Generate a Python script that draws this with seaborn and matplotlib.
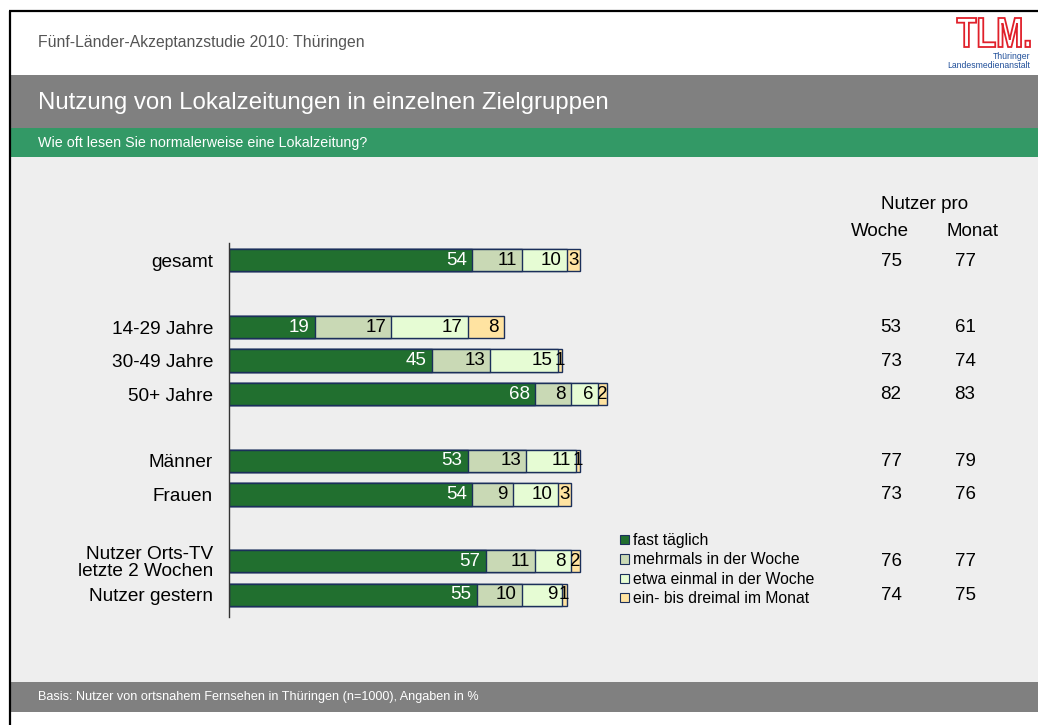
import matplotlib
matplotlib.use("Agg")
import matplotlib.pyplot as plt
from matplotlib.patches import Rectangle, Patch, PathPatch
from matplotlib.textpath import TextPath
from matplotlib.font_manager import FontProperties
from matplotlib.transforms import Affine2D
import numpy as np
import pandas as pd
import seaborn as sns

# ---------------- data ----------------
categories = ["gesamt", "14-29 Jahre", "30-49 Jahre", "50+ Jahre",
              "Männer", "Frauen", "Nutzer Orts-TV\nletzte 2 Wochen", "Nutzer gestern"]
row_pos = [0, 2, 3, 4, 6, 7, 9, 10]
series_names = ["fast täglich", "mehrmals in der Woche",
                "etwa einmal in der Woche", "ein- bis dreimal im Monat"]
fast_taeglich = [54, 19, 45, 68, 53, 54, 57, 55]
mehrmals_woche = [11, 17, 13, 8, 13, 9, 11, 10]
einmal_woche = [10, 17, 15, 6, 11, 10, 8, 9]
ein_bis_dreimal_monat = [3, 8, 1, 2, 1, 3, 2, 1]
nutzer_woche = [75, 53, 73, 82, 77, 73, 76, 74]
nutzer_monat = [77, 61, 74, 83, 79, 76, 77, 75]

colors = ["#216F2F", "#C9D9B5", "#E6FCD4", "#FFE3A1"]
edge = "#1B2F5A"
FONT = "Liberation Sans"

sns.set_theme(style="white")
plt.rcParams["font.family"] = [FONT, "DejaVu Sans"]
plt.rcParams["text.color"] = "black"
plt.rcParams["ytick.color"] = "black"
plt.rcParams["ytick.labelcolor"] = "black"

W, H = 1038, 725
fig = plt.figure(figsize=(W / 100, H / 100), dpi=100)

# ---------------- slide chrome ----------------
bg = fig.add_axes([0, 0, 1, 1], zorder=0)
bg.set_xlim(0, W)
bg.set_ylim(H, 0)
bg.axis("off")
bg.add_patch(Rectangle((11, 75), W - 11, 53, color="#808080", lw=0))
bg.add_patch(Rectangle((11, 128), W - 11, 29, color="#339966", lw=0))
bg.add_patch(Rectangle((11, 157), W - 11, 525, color="#EEEEEE", lw=0))
bg.add_patch(Rectangle((11, 682), W - 11, 30, color="#808080", lw=0))
bg.plot([9, W], [11, 11], color="black", lw=1.6, solid_capstyle="butt")
bg.plot([10, 10], [11, H], color="black", lw=1.6, solid_capstyle="butt")

bg.text(38, 42, "Fünf-Länder-Akzeptanzstudie 2010: Thüringen", fontsize=11.3,
        color="#555555", va="center", ha="left")
bg.text(38, 103, "Nutzung von Lokalzeitungen in einzelnen Zielgruppen", fontsize=17.3,
        color="white", va="center", ha="left")
bg.text(38, 143, "Wie oft lesen Sie normalerweise eine Lokalzeitung?", fontsize=10.3,
        color="white", va="center", ha="left")
bg.text(38, 697, "Basis: Nutzer von ortsnahem Fernsehen in Thüringen (n=1000), Angaben in %",
        fontsize=9.1, color="white", va="center", ha="left")

# logo: outlined red letters, stretched to the logo box
tp = TextPath((0, 0), "TLM.", size=10, prop=FontProperties(family=FONT, weight="bold"))
ext = tp.get_extents()
sx = (1030 - 957) / ext.width
sy = (47 - 18) / ext.height
tr = Affine2D().translate(-ext.x0, -ext.y0).scale(sx, -sy).translate(957, 47)
bg.add_patch(PathPatch(tr.transform_path(tp), facecolor="white",
                       edgecolor="#E0202A", lw=1.3))
bg.text(1030, 56, "Thüringer", fontsize=6.2, color="#1F4E99", ha="right", va="center")
bg.text(1030, 65, "Landesmedienanstalt", fontsize=6.2, color="#1F4E99", ha="right", va="center")

# right-hand columns
bg.text(925, 204, "Nutzer pro", fontsize=13.5, ha="center", va="center")
bg.text(880, 231, "Woche", fontsize=13.5, ha="center", va="center")
bg.text(972, 231, "Monat", fontsize=13.5, ha="center", va="center")

# ---------------- bar chart ----------------
ax = fig.add_axes([229 / W, (H - 617) / H, 450 / W, 374 / H], zorder=2)
ax.patch.set_alpha(0)

df = pd.DataFrame({
    "pos": row_pos,
    "s1": fast_taeglich,
    "s2": mehrmals_woche,
    "s3": einmal_woche,
    "s4": ein_bis_dreimal_monat,
})
cum = df[["s1", "s2", "s3", "s4"]].cumsum(axis=1)
for k in [3, 2, 1, 0]:
    tmp = pd.DataFrame({"pos": df["pos"], "val": cum.iloc[:, k]})
    sns.barplot(data=tmp, x="val", y="pos", orient="h", native_scale=True,
                color=colors[k], saturation=1, width=0.66, edgecolor=edge,
                linewidth=1.0, ax=ax, errorbar=None)

# value labels
for i, p in enumerate(row_pos):
    for k in range(4):
        end = cum.iloc[i, k]
        val = df.iloc[i, k + 1]
        col = "white" if k == 0 else "black"
        if val <= 3:
            ax.text(end - val / 2, p, f"{val}", ha="center", va="center",
                    fontsize=13.5, color=col, zorder=5)
        else:
            ax.text(end - 1.1, p, f"{val}", ha="right", va="center",
                    fontsize=13.5, color=col, zorder=5)

ax.set_xlim(0, 100)
ax.set_ylim(10.66, -0.51)
ax.set_yticks(row_pos)
ax.set_yticklabels(categories, fontsize=13.7, linespacing=0.95, color="black")
ax.tick_params(axis="y", length=0, pad=11.5)
ax.set_xticks([])
ax.set_xlabel("")
ax.set_ylabel("")
for s in ["top", "right", "bottom"]:
    ax.spines[s].set_visible(False)
ax.spines["left"].set_color("#333333")
ax.spines["left"].set_linewidth(1.0)

# right-hand numbers, aligned to rows
for i, p in enumerate(row_pos):
    y_px = 261 + p * 33.4
    bg.text(891, y_px, f"{nutzer_woche[i]}", fontsize=13.5, ha="center", va="center")
    bg.text(965, y_px, f"{nutzer_monat[i]}", fontsize=13.5, ha="center", va="center")

# legend
handles = [Patch(facecolor=c, edgecolor=edge, linewidth=0.8) for c in colors]
leg = ax.legend(handles, series_names, loc="upper left",
                bbox_to_anchor=(620 / W, 1 - 533 / H), bbox_transform=fig.transFigure,
                frameon=False, fontsize=11.3, handlelength=0.55, handleheight=0.55,
                handletextpad=0.3, labelspacing=0.28, borderpad=0, borderaxespad=0)
for t in leg.get_texts():
    t.set_color("black")

fig.savefig("out.png", dpi=100)
